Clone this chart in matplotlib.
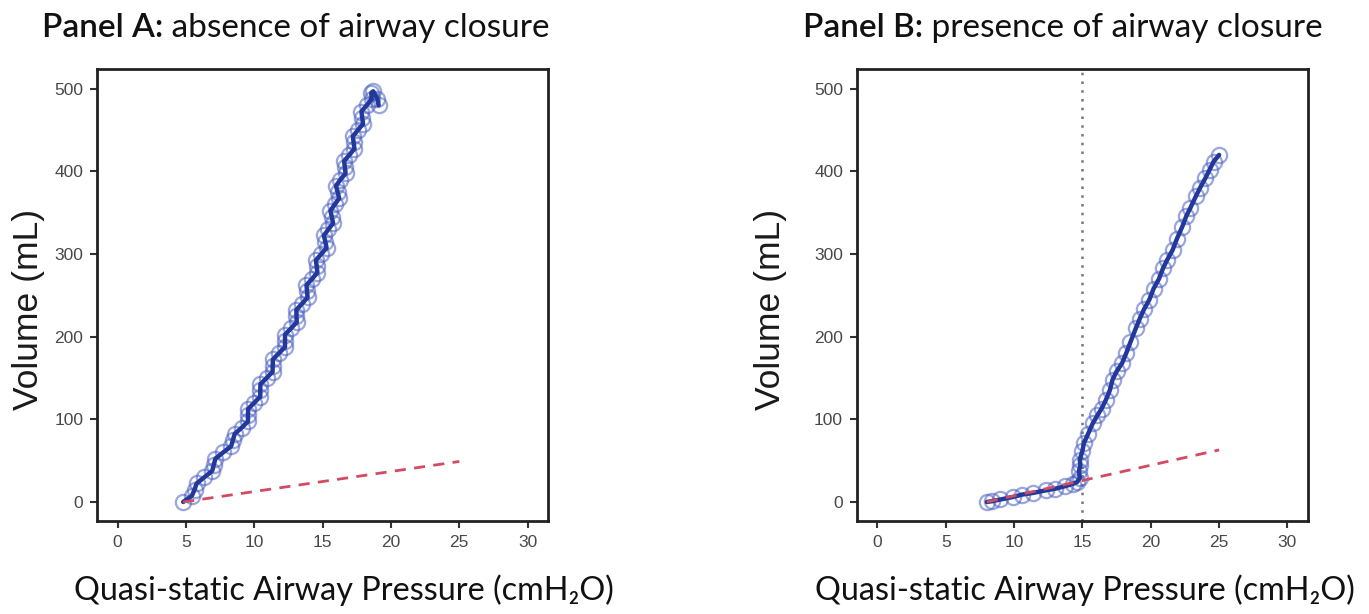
import matplotlib
matplotlib.use("Agg")
import matplotlib.pyplot as plt

# pressure-volume curve, no airway closure
a_press = [4.8, 5.44, 5.63, 5.79, 6.35, 6.92, 7.04, 7.16, 7.73, 8.31, 8.44, 8.57,
           9.09, 9.54, 9.54, 9.55, 9.99, 10.44, 10.44, 10.45, 10.90, 11.34, 11.35, 11.36,
           11.80, 12.25, 12.25, 12.25, 12.68, 13.11, 13.09, 13.08, 13.50, 13.90, 13.86, 13.82,
           14.23, 14.62, 14.57, 14.51, 14.90, 15.29, 15.20, 15.09, 15.43, 15.77, 15.67, 15.57,
           15.89, 16.21, 16.10, 15.98, 16.30, 16.68, 16.63, 16.57, 16.96, 17.33, 17.27, 17.21,
           17.58, 17.96, 17.90, 17.84, 18.22, 18.59, 18.56, 18.7, 19.0, 19.1]
a_vol = [0, 7.5, 15, 22.5, 30, 37.5, 45, 52.5, 60, 67.5, 75, 82.5,
         90, 97.5, 105, 112.5, 120, 127.5, 135, 142.5, 150, 157.5, 165, 172.5,
         180, 187.5, 195, 202.5, 210, 217.5, 225, 232.5, 240, 247.5, 255, 262.5,
         270, 277.5, 285, 292.5, 300, 307.5, 315, 322.5, 330, 337.5, 345, 352.5,
         360, 367.5, 375, 382.5, 390, 397.5, 405, 412.5, 420, 427.5, 435, 442.5,
         450, 457.5, 465, 472.5, 480, 487.5, 495, 497, 488, 480]
a_ref_press = [4.8, 25.0]
a_ref_vol = [0, 49]

# pressure-volume curve with airway opening pressure ~15 cmH2O
b_press = [8.0, 8.4, 9.0, 9.9, 10.6, 11.4, 12.3, 13.0, 13.7, 14.3, 14.6, 14.8, 14.75,
           14.85, 14.8, 15.0, 15.1, 15.4, 15.75, 16.1, 16.4, 16.7, 17.0, 17.2, 17.5,
           17.9, 18.2, 18.5, 18.9, 19.2, 19.5, 19.9, 20.2, 20.6, 20.9, 21.2, 21.6,
           21.9, 22.3, 22.6, 22.9, 23.3, 23.6, 24.0, 24.3, 24.6, 25.0]
b_vol = [0, 1, 3, 6, 9, 11, 14, 16, 19, 22, 24, 29, 38,
         45, 51, 62, 71, 82, 95, 105, 113, 123, 135, 148, 158,
         168, 180, 193, 210, 222, 233, 245, 258, 270, 283, 293, 305,
         318, 333, 346, 356, 370, 380, 392, 402, 412, 420]
b_ref_press = [8.0, 25.0]
b_ref_vol = [0, 63]
b_aop = 15

x_ticks = [0, 5, 10, 15, 20, 25, 30]
y_ticks = [0, 100, 200, 300, 400, 500]

titles = [("Panel A:", " absence of airway closure"),
          ("Panel B:", " presence of airway closure")]
xlabel = "Quasi-static Airway Pressure (cmH\u2082O)"
fam = ['Lato', 'DejaVu Sans']

fig = plt.figure(figsize=(13.69, 6.14), dpi=100)
ax_a = fig.add_axes([0.0709, 0.1515, 0.3295, 0.7362])
ax_b = fig.add_axes([0.626, 0.1515, 0.3294, 0.7362])


def style_axes(ax, label_x):
    ax.set_xlim(-1.5, 31.5)
    ax.set_ylim(-23, 524)
    ax.set_xticks(x_ticks)
    ax.set_yticks(y_ticks)
    for s in ax.spines.values():
        s.set_linewidth(2)
        s.set_color('#222222')
    ax.tick_params(direction='out', length=5, width=1.5, color='#333333',
                   labelsize=12.5, labelcolor='#484848', pad=5)
    for t in ax.get_xticklabels() + ax.get_yticklabels():
        t.set_family('Liberation Sans')
    ax.set_ylabel('Volume (mL)', fontsize=25.5, family='Liberation Sans', color='#1a1a1a')
    ax.yaxis.set_label_coords(label_x, 0.467)


def draw_curve(ax, px, vol, ref_px, ref_vol):
    ax.plot(px, vol, ls='none', marker='o', ms=11, mfc='none',
            mec='#4a5fc0', mew=1.6, alpha=0.55, zorder=2)
    ax.plot(px, vol, color='#22389a', lw=3.2, solid_joinstyle='round',
            solid_capstyle='round', zorder=3)
    ax.plot(ref_px, ref_vol, color='#d24a63', lw=2, ls=(0, (4, 3)), zorder=4)


draw_curve(ax_a, a_press, a_vol, a_ref_press, a_ref_vol)
draw_curve(ax_b, b_press, b_vol, b_ref_press, b_ref_vol)
ax_b.axvline(b_aop, color='#777777', lw=1.8, ls=(0, (1, 2.5)), zorder=1)

style_axes(ax_a, -0.115)
style_axes(ax_b, -0.155)

# panel titles: heavier lead + regular remainder
for (head, rest), x0 in zip(titles, [0.0307, 0.5866]):
    t = fig.text(x0, 0.93, head, fontsize=24, family=fam, weight='semibold',
                 va='bottom', ha='left', color='#111111')
    plt.annotate(rest, xy=(1, 0), xycoords=t, fontsize=24, va='bottom', ha='left',
                 family=fam, color='#111111')

for xc in [0.2513, 0.7925]:
    fig.text(xc, 0.039, xlabel, fontsize=23.3, family=fam,
             ha='center', va='center', color='#111111')

fig.savefig('out.png', dpi=100)
